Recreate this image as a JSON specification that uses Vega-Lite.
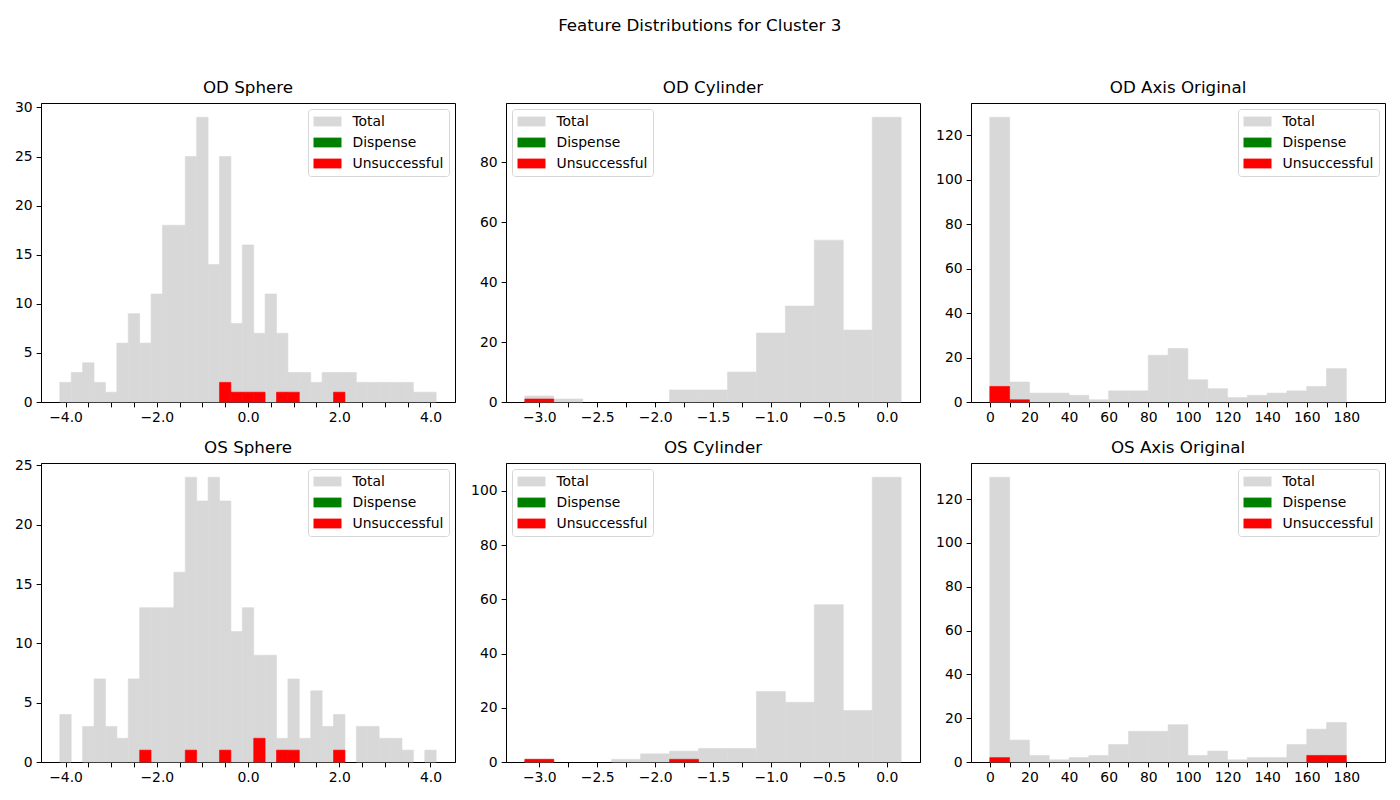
{
  "$schema": "https://vega.github.io/schema/vega-lite/v6.json",
  "padding": {"left": 13, "top": 17, "right": 5, "bottom": 5},
  "title": {"text": "Feature Distributions for Cluster 3", "fontSize": 16.7, "font": "DejaVu Sans", "fontWeight": "normal", "color": "black", "anchor": "middle", "offset": 44.4},
  "data": {"values": [
    {"p":"ODS","s":"Total","x0":-4.125,"x1":-3.875,"n":2},
    {"p":"ODS","s":"Total","x0":-3.875,"x1":-3.625,"n":3},
    {"p":"ODS","s":"Total","x0":-3.625,"x1":-3.375,"n":4},
    {"p":"ODS","s":"Total","x0":-3.375,"x1":-3.125,"n":2},
    {"p":"ODS","s":"Total","x0":-3.125,"x1":-2.875,"n":1},
    {"p":"ODS","s":"Total","x0":-2.875,"x1":-2.625,"n":6},
    {"p":"ODS","s":"Total","x0":-2.625,"x1":-2.375,"n":9},
    {"p":"ODS","s":"Total","x0":-2.375,"x1":-2.125,"n":6},
    {"p":"ODS","s":"Total","x0":-2.125,"x1":-1.875,"n":11},
    {"p":"ODS","s":"Total","x0":-1.875,"x1":-1.625,"n":18},
    {"p":"ODS","s":"Total","x0":-1.625,"x1":-1.375,"n":18},
    {"p":"ODS","s":"Total","x0":-1.375,"x1":-1.125,"n":25},
    {"p":"ODS","s":"Total","x0":-1.125,"x1":-0.875,"n":29},
    {"p":"ODS","s":"Total","x0":-0.875,"x1":-0.625,"n":14},
    {"p":"ODS","s":"Total","x0":-0.625,"x1":-0.375,"n":25},
    {"p":"ODS","s":"Total","x0":-0.375,"x1":-0.125,"n":8},
    {"p":"ODS","s":"Total","x0":-0.125,"x1":0.125,"n":16},
    {"p":"ODS","s":"Total","x0":0.125,"x1":0.375,"n":7},
    {"p":"ODS","s":"Total","x0":0.375,"x1":0.625,"n":11},
    {"p":"ODS","s":"Total","x0":0.625,"x1":0.875,"n":7},
    {"p":"ODS","s":"Total","x0":0.875,"x1":1.125,"n":3},
    {"p":"ODS","s":"Total","x0":1.125,"x1":1.375,"n":3},
    {"p":"ODS","s":"Total","x0":1.375,"x1":1.625,"n":2},
    {"p":"ODS","s":"Total","x0":1.625,"x1":1.875,"n":3},
    {"p":"ODS","s":"Total","x0":1.875,"x1":2.125,"n":3},
    {"p":"ODS","s":"Total","x0":2.125,"x1":2.375,"n":3},
    {"p":"ODS","s":"Total","x0":2.375,"x1":2.625,"n":2},
    {"p":"ODS","s":"Total","x0":2.625,"x1":2.875,"n":2},
    {"p":"ODS","s":"Total","x0":2.875,"x1":3.125,"n":2},
    {"p":"ODS","s":"Total","x0":3.125,"x1":3.375,"n":2},
    {"p":"ODS","s":"Total","x0":3.375,"x1":3.625,"n":2},
    {"p":"ODS","s":"Total","x0":3.625,"x1":3.875,"n":1},
    {"p":"ODS","s":"Total","x0":3.875,"x1":4.125,"n":1},
    {"p":"ODS","s":"Unsuccessful","x0":-0.625,"x1":-0.375,"n":2},
    {"p":"ODS","s":"Unsuccessful","x0":-0.375,"x1":-0.125,"n":1},
    {"p":"ODS","s":"Unsuccessful","x0":-0.125,"x1":0.125,"n":1},
    {"p":"ODS","s":"Unsuccessful","x0":0.125,"x1":0.375,"n":1},
    {"p":"ODS","s":"Unsuccessful","x0":0.625,"x1":0.875,"n":1},
    {"p":"ODS","s":"Unsuccessful","x0":0.875,"x1":1.125,"n":1},
    {"p":"ODS","s":"Unsuccessful","x0":1.875,"x1":2.125,"n":1},

    {"p":"OSS","s":"Total","x0":-4.125,"x1":-3.875,"n":4},
    {"p":"OSS","s":"Total","x0":-3.625,"x1":-3.375,"n":3},
    {"p":"OSS","s":"Total","x0":-3.375,"x1":-3.125,"n":7},
    {"p":"OSS","s":"Total","x0":-3.125,"x1":-2.875,"n":3},
    {"p":"OSS","s":"Total","x0":-2.875,"x1":-2.625,"n":2},
    {"p":"OSS","s":"Total","x0":-2.625,"x1":-2.375,"n":7},
    {"p":"OSS","s":"Total","x0":-2.375,"x1":-2.125,"n":13},
    {"p":"OSS","s":"Total","x0":-2.125,"x1":-1.875,"n":13},
    {"p":"OSS","s":"Total","x0":-1.875,"x1":-1.625,"n":13},
    {"p":"OSS","s":"Total","x0":-1.625,"x1":-1.375,"n":16},
    {"p":"OSS","s":"Total","x0":-1.375,"x1":-1.125,"n":24},
    {"p":"OSS","s":"Total","x0":-1.125,"x1":-0.875,"n":22},
    {"p":"OSS","s":"Total","x0":-0.875,"x1":-0.625,"n":24},
    {"p":"OSS","s":"Total","x0":-0.625,"x1":-0.375,"n":22},
    {"p":"OSS","s":"Total","x0":-0.375,"x1":-0.125,"n":11},
    {"p":"OSS","s":"Total","x0":-0.125,"x1":0.125,"n":13},
    {"p":"OSS","s":"Total","x0":0.125,"x1":0.375,"n":9},
    {"p":"OSS","s":"Total","x0":0.375,"x1":0.625,"n":9},
    {"p":"OSS","s":"Total","x0":0.625,"x1":0.875,"n":2},
    {"p":"OSS","s":"Total","x0":0.875,"x1":1.125,"n":7},
    {"p":"OSS","s":"Total","x0":1.125,"x1":1.375,"n":2},
    {"p":"OSS","s":"Total","x0":1.375,"x1":1.625,"n":6},
    {"p":"OSS","s":"Total","x0":1.625,"x1":1.875,"n":3},
    {"p":"OSS","s":"Total","x0":1.875,"x1":2.125,"n":4},
    {"p":"OSS","s":"Total","x0":2.375,"x1":2.625,"n":3},
    {"p":"OSS","s":"Total","x0":2.625,"x1":2.875,"n":3},
    {"p":"OSS","s":"Total","x0":2.875,"x1":3.125,"n":2},
    {"p":"OSS","s":"Total","x0":3.125,"x1":3.375,"n":2},
    {"p":"OSS","s":"Total","x0":3.375,"x1":3.625,"n":1},
    {"p":"OSS","s":"Total","x0":3.875,"x1":4.125,"n":1},
    {"p":"OSS","s":"Unsuccessful","x0":-2.375,"x1":-2.125,"n":1},
    {"p":"OSS","s":"Unsuccessful","x0":-1.375,"x1":-1.125,"n":1},
    {"p":"OSS","s":"Unsuccessful","x0":-0.625,"x1":-0.375,"n":1},
    {"p":"OSS","s":"Unsuccessful","x0":0.125,"x1":0.375,"n":2},
    {"p":"OSS","s":"Unsuccessful","x0":0.625,"x1":0.875,"n":1},
    {"p":"OSS","s":"Unsuccessful","x0":0.875,"x1":1.125,"n":1},
    {"p":"OSS","s":"Unsuccessful","x0":1.875,"x1":2.125,"n":1},

    {"p":"ODC","s":"Total","x0":-3.125,"x1":-2.875,"n":2},
    {"p":"ODC","s":"Total","x0":-2.875,"x1":-2.625,"n":1},
    {"p":"ODC","s":"Total","x0":-1.875,"x1":-1.625,"n":4},
    {"p":"ODC","s":"Total","x0":-1.625,"x1":-1.375,"n":4},
    {"p":"ODC","s":"Total","x0":-1.375,"x1":-1.125,"n":10},
    {"p":"ODC","s":"Total","x0":-1.125,"x1":-0.875,"n":23},
    {"p":"ODC","s":"Total","x0":-0.875,"x1":-0.625,"n":32},
    {"p":"ODC","s":"Total","x0":-0.625,"x1":-0.375,"n":54},
    {"p":"ODC","s":"Total","x0":-0.375,"x1":-0.125,"n":24},
    {"p":"ODC","s":"Total","x0":-0.125,"x1":0.125,"n":95},
    {"p":"ODC","s":"Unsuccessful","x0":-3.125,"x1":-2.875,"n":1},

    {"p":"OSC","s":"Total","x0":-3.125,"x1":-2.875,"n":1},
    {"p":"OSC","s":"Total","x0":-2.375,"x1":-2.125,"n":1},
    {"p":"OSC","s":"Total","x0":-2.125,"x1":-1.875,"n":3},
    {"p":"OSC","s":"Total","x0":-1.875,"x1":-1.625,"n":4},
    {"p":"OSC","s":"Total","x0":-1.625,"x1":-1.375,"n":5},
    {"p":"OSC","s":"Total","x0":-1.375,"x1":-1.125,"n":5},
    {"p":"OSC","s":"Total","x0":-1.125,"x1":-0.875,"n":26},
    {"p":"OSC","s":"Total","x0":-0.875,"x1":-0.625,"n":22},
    {"p":"OSC","s":"Total","x0":-0.625,"x1":-0.375,"n":58},
    {"p":"OSC","s":"Total","x0":-0.375,"x1":-0.125,"n":19},
    {"p":"OSC","s":"Total","x0":-0.125,"x1":0.125,"n":105},
    {"p":"OSC","s":"Unsuccessful","x0":-3.125,"x1":-2.875,"n":1},
    {"p":"OSC","s":"Unsuccessful","x0":-1.875,"x1":-1.625,"n":1},

    {"p":"ODA","s":"Total","x0":0,"x1":10,"n":128},
    {"p":"ODA","s":"Total","x0":10,"x1":20,"n":9},
    {"p":"ODA","s":"Total","x0":20,"x1":30,"n":4},
    {"p":"ODA","s":"Total","x0":30,"x1":40,"n":4},
    {"p":"ODA","s":"Total","x0":40,"x1":50,"n":3},
    {"p":"ODA","s":"Total","x0":50,"x1":60,"n":1},
    {"p":"ODA","s":"Total","x0":60,"x1":70,"n":5},
    {"p":"ODA","s":"Total","x0":70,"x1":80,"n":5},
    {"p":"ODA","s":"Total","x0":80,"x1":90,"n":21},
    {"p":"ODA","s":"Total","x0":90,"x1":100,"n":24},
    {"p":"ODA","s":"Total","x0":100,"x1":110,"n":10},
    {"p":"ODA","s":"Total","x0":110,"x1":120,"n":6},
    {"p":"ODA","s":"Total","x0":120,"x1":130,"n":2},
    {"p":"ODA","s":"Total","x0":130,"x1":140,"n":3},
    {"p":"ODA","s":"Total","x0":140,"x1":150,"n":4},
    {"p":"ODA","s":"Total","x0":150,"x1":160,"n":5},
    {"p":"ODA","s":"Total","x0":160,"x1":170,"n":7},
    {"p":"ODA","s":"Total","x0":170,"x1":180,"n":15},
    {"p":"ODA","s":"Unsuccessful","x0":0,"x1":10,"n":7},
    {"p":"ODA","s":"Unsuccessful","x0":10,"x1":20,"n":1},

    {"p":"OSA","s":"Total","x0":0,"x1":10,"n":130},
    {"p":"OSA","s":"Total","x0":10,"x1":20,"n":10},
    {"p":"OSA","s":"Total","x0":20,"x1":30,"n":3},
    {"p":"OSA","s":"Total","x0":30,"x1":40,"n":1},
    {"p":"OSA","s":"Total","x0":40,"x1":50,"n":2},
    {"p":"OSA","s":"Total","x0":50,"x1":60,"n":3},
    {"p":"OSA","s":"Total","x0":60,"x1":70,"n":8},
    {"p":"OSA","s":"Total","x0":70,"x1":80,"n":14},
    {"p":"OSA","s":"Total","x0":80,"x1":90,"n":14},
    {"p":"OSA","s":"Total","x0":90,"x1":100,"n":17},
    {"p":"OSA","s":"Total","x0":100,"x1":110,"n":3},
    {"p":"OSA","s":"Total","x0":110,"x1":120,"n":5},
    {"p":"OSA","s":"Total","x0":120,"x1":130,"n":1},
    {"p":"OSA","s":"Total","x0":130,"x1":140,"n":2},
    {"p":"OSA","s":"Total","x0":140,"x1":150,"n":2},
    {"p":"OSA","s":"Total","x0":150,"x1":160,"n":8},
    {"p":"OSA","s":"Total","x0":160,"x1":170,"n":15},
    {"p":"OSA","s":"Total","x0":170,"x1":180,"n":18},
    {"p":"OSA","s":"Unsuccessful","x0":0,"x1":10,"n":2},
    {"p":"OSA","s":"Unsuccessful","x0":160,"x1":170,"n":3},
    {"p":"OSA","s":"Unsuccessful","x0":170,"x1":180,"n":3}
  ]},
  "columns": 3,
  "spacing": {"row": 61, "column": 51},
  "bounds": "flush",
  "resolve": {"scale": {"x": "independent", "y": "independent", "color": "independent", "stroke": "independent"}, "legend": {"color": "independent"}},
  "concat": [
    {
      "title": {"text": "OD Sphere", "offset": 4.2}, "width": 414, "height": 299,
      "transform": [{"filter": "datum.p == 'ODS'"}],
      "mark": {"type": "bar", "strokeWidth": 0.6},
      "encoding": {
        "x": {"field": "x0", "type": "quantitative", "scale": {"domain": [-4.5375, 4.5375], "nice": false, "zero": false},
              "axis": {"title": null, "format": ".1f", "values": [-4,-3.5,-3,-2.5,-2,-1.5,-1,-0.5,0,0.5,1,1.5,2,2.5,3,3.5,4], "labelExpr": "abs(datum.value % 2) < 0.001 ? datum.label : ''"}},
        "x2": {"field": "x1"},
        "y": {"field": "n", "type": "quantitative", "stack": null, "scale": {"domain": [0, 30.45], "nice": false}, "axis": {"title": null, "values": [0,5,10,15,20,25,30]}},
        "y2": {"datum": 0},
        "color": {"field": "s", "type": "nominal", "scale": {"domain": ["Total","Dispense","Unsuccessful"], "range": ["#d8d8d8","#008000","#ff0000"]}, "legend": {"orient": "top-right", "title": null}},
        "stroke": {"field": "s", "type": "nominal", "scale": {"domain": ["Total","Dispense","Unsuccessful"], "range": ["#d8d8d8","#008000","#ff0000"]}, "legend": null}
      }
    },
    {
      "title": {"text": "OD Cylinder", "offset": 6.7}, "width": 414, "height": 299,
      "transform": [{"filter": "datum.p == 'ODC'"}],
      "mark": {"type": "bar", "strokeWidth": 0.6},
      "encoding": {
        "x": {"field": "x0", "type": "quantitative", "scale": {"domain": [-3.2875, 0.2875], "nice": false, "zero": false},
              "axis": {"title": null, "format": ".1f", "values": [-3,-2.75,-2.5,-2.25,-2,-1.75,-1.5,-1.25,-1,-0.75,-0.5,-0.25,0], "labelExpr": "abs(datum.value * 2 - round(datum.value * 2)) < 0.001 ? datum.label : ''"}},
        "x2": {"field": "x1"},
        "y": {"field": "n", "type": "quantitative", "stack": null, "scale": {"domain": [0, 99.75], "nice": false}, "axis": {"title": null, "values": [0,20,40,60,80]}},
        "y2": {"datum": 0},
        "color": {"field": "s", "type": "nominal", "scale": {"domain": ["Total","Dispense","Unsuccessful"], "range": ["#d8d8d8","#008000","#ff0000"]}, "legend": {"orient": "top-left", "title": null}},
        "stroke": {"field": "s", "type": "nominal", "scale": {"domain": ["Total","Dispense","Unsuccessful"], "range": ["#d8d8d8","#008000","#ff0000"]}, "legend": null}
      }
    },
    {
      "title": {"text": "OD Axis Original", "offset": 6.7}, "width": 414, "height": 299,
      "transform": [{"filter": "datum.p == 'ODA'"}],
      "mark": {"type": "bar", "strokeWidth": 0.6},
      "encoding": {
        "x": {"field": "x0", "type": "quantitative", "scale": {"domain": [-9.5, 199.5], "nice": false, "zero": false},
              "axis": {"title": null, "values": [0,10,20,30,40,50,60,70,80,90,100,110,120,130,140,150,160,170,180], "labelExpr": "datum.value % 20 == 0 ? datum.label : ''"}},
        "x2": {"field": "x1"},
        "y": {"field": "n", "type": "quantitative", "stack": null, "scale": {"domain": [0, 134.4], "nice": false}, "axis": {"title": null, "values": [0,20,40,60,80,100,120]}},
        "y2": {"datum": 0},
        "color": {"field": "s", "type": "nominal", "scale": {"domain": ["Total","Dispense","Unsuccessful"], "range": ["#d8d8d8","#008000","#ff0000"]}, "legend": {"orient": "top-right", "title": null}},
        "stroke": {"field": "s", "type": "nominal", "scale": {"domain": ["Total","Dispense","Unsuccessful"], "range": ["#d8d8d8","#008000","#ff0000"]}, "legend": null}
      }
    },
    {
      "title": {"text": "OS Sphere", "offset": 2.1}, "width": 414, "height": 299,
      "transform": [{"filter": "datum.p == 'OSS'"}],
      "mark": {"type": "bar", "strokeWidth": 0.6},
      "encoding": {
        "x": {"field": "x0", "type": "quantitative", "scale": {"domain": [-4.5375, 4.5375], "nice": false, "zero": false},
              "axis": {"title": null, "format": ".1f", "values": [-4,-3.5,-3,-2.5,-2,-1.5,-1,-0.5,0,0.5,1,1.5,2,2.5,3,3.5,4], "labelExpr": "abs(datum.value % 2) < 0.001 ? datum.label : ''"}},
        "x2": {"field": "x1"},
        "y": {"field": "n", "type": "quantitative", "stack": null, "scale": {"domain": [0, 25.2], "nice": false}, "axis": {"title": null, "values": [0,5,10,15,20,25]}},
        "y2": {"datum": 0},
        "color": {"field": "s", "type": "nominal", "scale": {"domain": ["Total","Dispense","Unsuccessful"], "range": ["#d8d8d8","#008000","#ff0000"]}, "legend": {"orient": "top-right", "title": null}},
        "stroke": {"field": "s", "type": "nominal", "scale": {"domain": ["Total","Dispense","Unsuccessful"], "range": ["#d8d8d8","#008000","#ff0000"]}, "legend": null}
      }
    },
    {
      "title": {"text": "OS Cylinder", "offset": 6.7}, "width": 414, "height": 299,
      "transform": [{"filter": "datum.p == 'OSC'"}],
      "mark": {"type": "bar", "strokeWidth": 0.6},
      "encoding": {
        "x": {"field": "x0", "type": "quantitative", "scale": {"domain": [-3.2875, 0.2875], "nice": false, "zero": false},
              "axis": {"title": null, "format": ".1f", "values": [-3,-2.75,-2.5,-2.25,-2,-1.75,-1.5,-1.25,-1,-0.75,-0.5,-0.25,0], "labelExpr": "abs(datum.value * 2 - round(datum.value * 2)) < 0.001 ? datum.label : ''"}},
        "x2": {"field": "x1"},
        "y": {"field": "n", "type": "quantitative", "stack": null, "scale": {"domain": [0, 110.25], "nice": false}, "axis": {"title": null, "values": [0,20,40,60,80,100]}},
        "y2": {"datum": 0},
        "color": {"field": "s", "type": "nominal", "scale": {"domain": ["Total","Dispense","Unsuccessful"], "range": ["#d8d8d8","#008000","#ff0000"]}, "legend": {"orient": "top-left", "title": null}},
        "stroke": {"field": "s", "type": "nominal", "scale": {"domain": ["Total","Dispense","Unsuccessful"], "range": ["#d8d8d8","#008000","#ff0000"]}, "legend": null}
      }
    },
    {
      "title": {"text": "OS Axis Original", "offset": 6.7}, "width": 414, "height": 299,
      "transform": [{"filter": "datum.p == 'OSA'"}],
      "mark": {"type": "bar", "strokeWidth": 0.6},
      "encoding": {
        "x": {"field": "x0", "type": "quantitative", "scale": {"domain": [-9.5, 199.5], "nice": false, "zero": false},
              "axis": {"title": null, "values": [0,10,20,30,40,50,60,70,80,90,100,110,120,130,140,150,160,170,180], "labelExpr": "datum.value % 20 == 0 ? datum.label : ''"}},
        "x2": {"field": "x1"},
        "y": {"field": "n", "type": "quantitative", "stack": null, "scale": {"domain": [0, 136.5], "nice": false}, "axis": {"title": null, "values": [0,20,40,60,80,100,120]}},
        "y2": {"datum": 0},
        "color": {"field": "s", "type": "nominal", "scale": {"domain": ["Total","Dispense","Unsuccessful"], "range": ["#d8d8d8","#008000","#ff0000"]}, "legend": {"orient": "top-right", "title": null}},
        "stroke": {"field": "s", "type": "nominal", "scale": {"domain": ["Total","Dispense","Unsuccessful"], "range": ["#d8d8d8","#008000","#ff0000"]}, "legend": null}
      }
    }
  ],
  "config": {
    "font": "DejaVu Sans",
    "view": {"stroke": "black", "strokeWidth": 1},
    "title": {"fontSize": 16.7, "fontWeight": "normal", "font": "DejaVu Sans", "color": "black", "offset": 6.7, "anchor": "middle"},
    "axis": {"grid": false, "domainColor": "black", "domainWidth": 1, "tickColor": "black", "tickWidth": 1, "tickSize": 4.9, "labelColor": "black", "labelFont": "DejaVu Sans", "labelFontSize": 13.9, "labelPadding": 4, "labelOverlap": false, "labelFlush": false, "labelBound": false},
    "legend": {"offset": 6, "padding": 5.5, "rowPadding": 7, "fillColor": "rgba(255,255,255,0.8)", "strokeColor": "#d6d6d6", "strokeWidth": 1, "cornerRadius": 3, "labelFont": "DejaVu Sans", "labelFontSize": 13.9, "labelColor": "black", "labelOffset": 25, "symbolType": "M-1,-0.7H3V0.7H-1Z", "symbolSize": 196, "symbolStrokeWidth": 0, "symbolOpacity": 1}
  }
}
